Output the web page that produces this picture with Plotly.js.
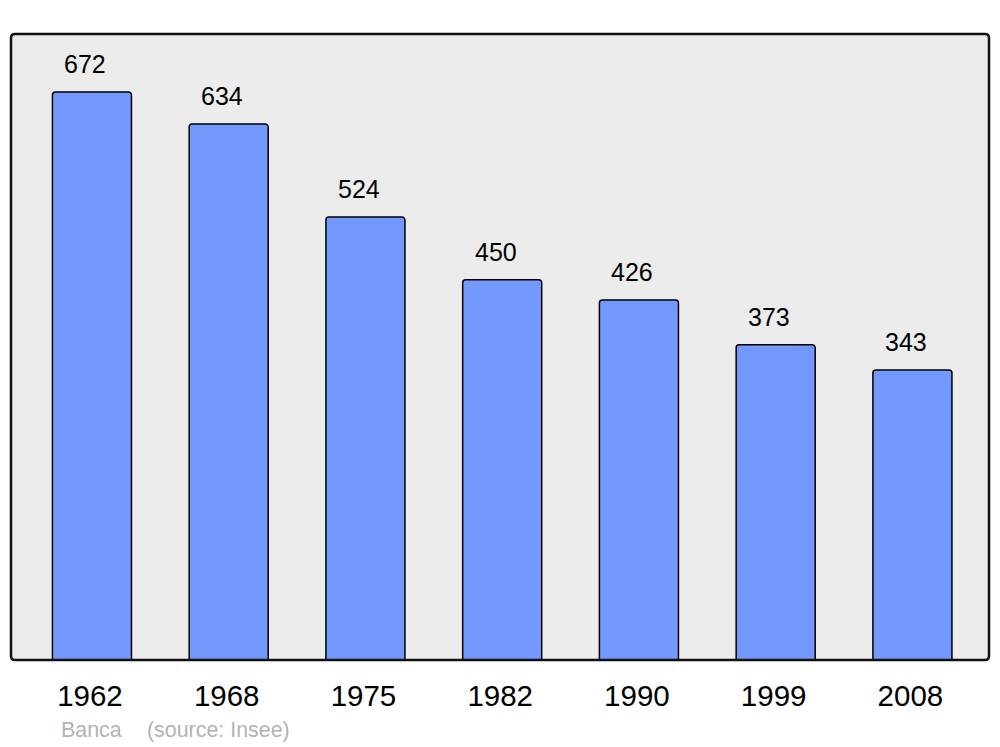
<!DOCTYPE html>
<html>
<head>
<meta charset="utf-8">
<script src="https://cdn.plot.ly/plotly-3.0.1.min.js"></script>
<style>html,body{margin:0;padding:0;background:#fff;}#chart{width:1000px;height:747px;}</style>
</head>
<body>
<div id="chart"></div>
<script>
const years = ["1962", "1968", "1975", "1982", "1990", "1999", "2008"];
const population = [672, 634, 524, 450, 426, 373, 343];
const commune = "Banca";
const source = "(source: Insee)";

const W = 978, H = 626, r = 4;
const rx = r / W, ry = r / H;
const borderPath = `M ${rx},0 L ${1-rx},0 Q 1,0 1,${ry} L 1,${1-ry} Q 1,1 ${1-rx},1 L ${rx},1 Q 0,1 0,${1-ry} L 0,${ry} Q 0,0 ${rx},0 Z`;

const trace = {
  type: "bar",
  x: years.map((_, i) => i),
  y: population,
  width: 0.578,
  marker: { color: "#7399ff", line: { color: "#000", width: 1.5 }, cornerradius: 3 },
  hoverinfo: "skip"
};

const annotations = population.map((v, i) => ({
  x: i, y: v, xref: "x", yref: "y",
  text: String(v), showarrow: false,
  yanchor: "bottom", yshift: 12, xshift: -6.5,
  font: { family: "Liberation Sans, Arial, sans-serif", size: 25, color: "#000" }
}));
annotations.push({
  x: (59 - 11) / W, y: (660 - 730) / H, xref: "paper", yref: "paper",
  text: commune, showarrow: false, xanchor: "left", yanchor: "middle",
  font: { family: "Liberation Sans, Arial, sans-serif", size: 21.4, color: "#b3b3b3" }
});
annotations.push({
  x: (145 - 11) / W, y: (660 - 730) / H, xref: "paper", yref: "paper",
  text: source, showarrow: false, xanchor: "left", yanchor: "middle",
  font: { family: "Liberation Sans, Arial, sans-serif", size: 21.4, color: "#b3b3b3" }
});

const layout = {
  width: 1000, height: 747,
  margin: { l: 11, r: 11, t: 34, b: 87, pad: 0 },
  paper_bgcolor: "#ffffff",
  plot_bgcolor: "#ececec",
  showlegend: false,
  xaxis: {
    range: [-0.592, 6.56],
    tickmode: "array",
    tickvals: years.map((_, i) => i),
    ticktext: years,
    ticks: "", showgrid: false, zeroline: false, showline: false,
    ticklabelstandoff: 15,
    ticklabelshift: -2,
    tickfont: { family: "Liberation Sans, Arial, sans-serif", size: 29.5, color: "#000" },
    fixedrange: true
  },
  yaxis: {
    range: [0, 740.6],
    showticklabels: false, ticks: "", showgrid: false, zeroline: false, showline: false,
    fixedrange: true
  },
  shapes: [{
    type: "path", xref: "paper", yref: "paper", path: borderPath,
    line: { color: "#111", width: 2.5 }, layer: "above"
  }],
  annotations: annotations
};

Plotly.newPlot("chart", [trace], layout, { displayModeBar: false, staticPlot: true });
</script>
</body>
</html>
